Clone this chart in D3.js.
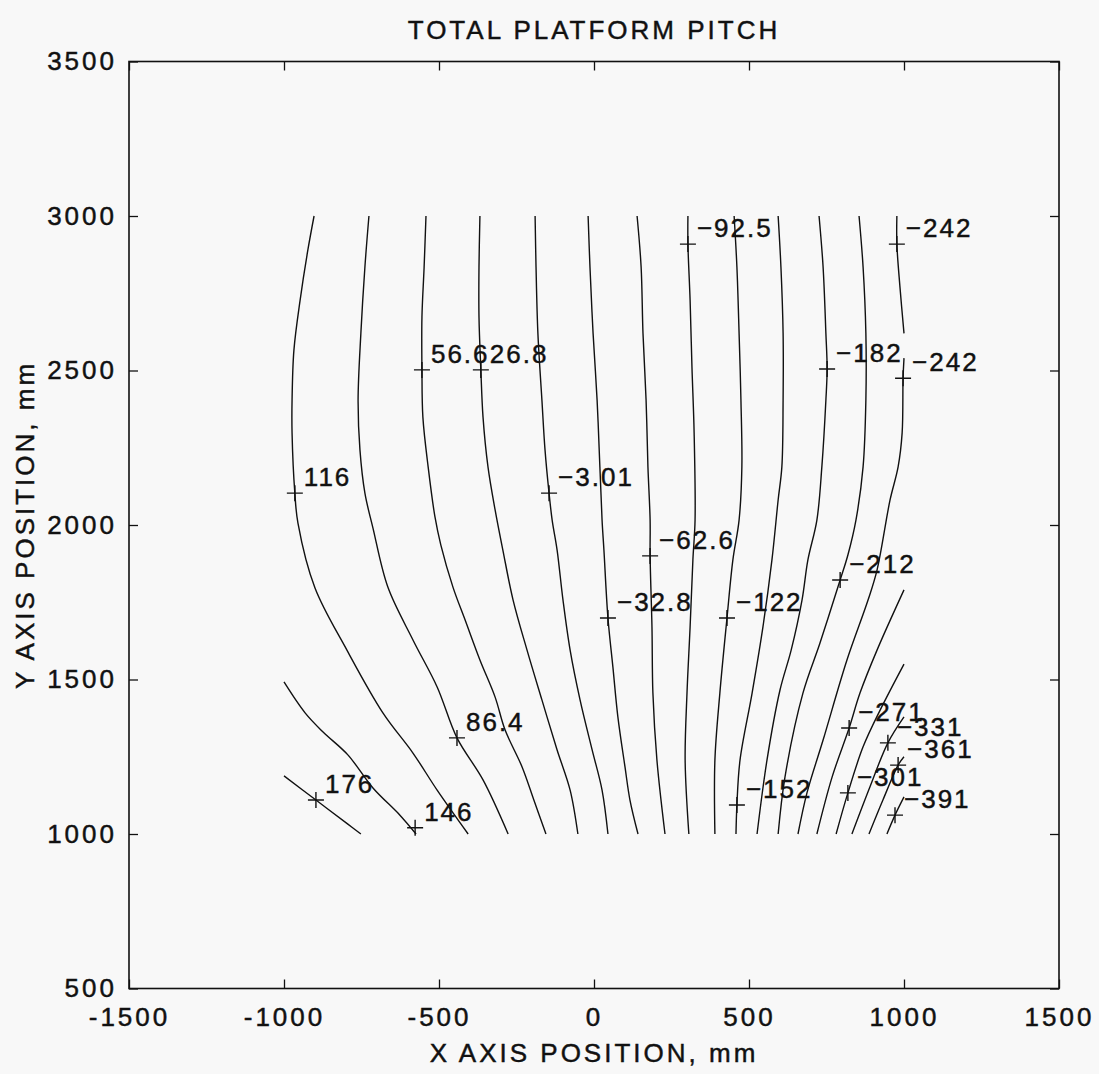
<!DOCTYPE html>
<html>
<head>
<meta charset="utf-8">
<script src="https://cdn.jsdelivr.net/npm/d3@7"></script>
<style>
  html, body { margin: 0; padding: 0; background: #f8f8f8; }
  svg { display: block; font-family: "Liberation Sans", Arial, Helvetica, sans-serif; }
  text { paint-order: stroke; }
</style>
</head>
<body>
<svg id="chart" width="1099" height="1074"></svg>
<script>
// ---- text ----
const chartTitle = "TOTAL PLATFORM PITCH";
const xTitle = "X AXIS POSITION, mm";
const yTitle = "Y AXIS POSITION, mm";

// ---- axes ----
const xDomain = [-1500, 1500];
const yDomain = [500, 3500];
const xTicks = [-1500, -1000, -500, 0, 500, 1000, 1500];
const yTicks = [500, 1000, 1500, 2000, 2500, 3000, 3500];

// ---- contour levels (pitch) ----
const levels = [176, 146, 116, 86.4, 56.6, 26.8, -3.01, -32.8, -62.6, -92.5,
                -122, -152, -182, -212, -242, -271, -301, -331, -361, -391];

// ---- contour paths, [x mm, y mm] ----
const line176 = [[-1000,1188],[-897,1110],[-794,1032],[-752,1000]];
const line146 = [[-1000,1492],[-932,1392],[-874,1330],[-794,1256],[-713,1149],[-626,1061],[-574,1000]];
const line116 = [[-903,3000],[-923,2890],[-948,2728],[-968,2566],[-974,2404],[-974,2298],[-965,2103],
                 [-955,2006],[-900,1796],[-797,1595],[-681,1392],[-584,1262],[-506,1142],[-406,1000]];
const line86 = [[-726,3000],[-739,2835],[-752,2621],[-761,2404],[-755,2243],[-739,2103],[-713,1990],
                [-665,1799],[-584,1628],[-506,1476],[-442,1311],[-358,1175],[-277,1000]];
const line57 = [[-542,3000],[-548,2835],[-555,2673],[-555,2502],[-552,2349],[-535,2188],[-513,2026],
                [-494,1935],[-455,1799],[-416,1693],[-368,1563],[-319,1443],[-287,1337],[-232,1217],
                [-194,1110],[-155,1000]];
const line27 = [[-368,3000],[-371,2835],[-371,2673],[-365,2502],[-358,2349],[-342,2188],[-319,2049],
                [-294,1919],[-261,1757],[-216,1595],[-168,1434],[-119,1272],[-77,1142],[-52,1000]];
const lineM3 = [[-190,3000],[-187,2835],[-181,2621],[-168,2404],[-158,2243],[-145,2103],[-135,2016],
                [-119,1919],[-100,1757],[-77,1595],[-45,1434],[-6,1272],[26,1142],[45,1000]];
const lineM33 = [[-19,3000],[-13,2835],[-3,2621],[10,2404],[19,2188],[26,2016],[32,1919],[45,1699],
                 [61,1540],[77,1379],[100,1217],[116,1110],[142,1000]];
const lineM63 = [[139,3000],[152,2835],[158,2621],[168,2404],[174,2188],[181,2016],[181,1900],
                 [187,1670],[190,1456],[203,1239],[229,1000]];
const lineM93 = [[303,3000],[303,2909],[310,2728],[316,2511],[323,2298],[326,2016],[319,1887],
                 [310,1670],[300,1456],[294,1239],[306,1000]];
const lineM122 = [[452,3000],[461,2835],[468,2621],[474,2404],[477,2188],[468,2016],[448,1887],
                  [429,1699],[406,1456],[390,1239],[390,1000]];
const lineM152 = [[594,3000],[603,2835],[610,2621],[610,2404],[606,2188],[594,2081],[574,1887],
                  [545,1670],[510,1456],[471,1239],[461,1094],[458,1000]];
const lineM182 = [[726,3000],[739,2835],[748,2621],[752,2505],[748,2404],[735,2188],[719,2016],
                  [690,1887],[671,1757],[636,1595],[600,1466],[558,1239],[526,1000]];
const lineM212 = [[855,3000],[868,2835],[877,2621],[877,2404],[868,2188],[845,2016],[819,1903],
                  [794,1822],[729,1618],[674,1456],[616,1184],[594,1000]];
const lineM242a = [[977,3000],[977,2909],[987,2770],[1000,2620]];
const lineM242b = [[1000,2540],[997,2475],[994,2298],[981,2188],[955,2081],[913,1854],[884,1757],
                   [816,1563],[739,1304],[687,1133],[658,1000]];
const lineM271 = [[1000,1790],[913,1595],[858,1456],[823,1343],[768,1184],[719,1000]];
const lineM301 = [[1000,1550],[923,1401],[868,1282],[819,1133],[781,1000]];
const lineM331 = [[1000,1379],[948,1295],[890,1152],[832,1000]];
const lineM361 = [[1000,1250],[981,1223],[932,1110],[887,1000]];
const lineM391 = [[1000,1120],[971,1061],[945,1000]];

const contourPaths = [line176, line146, line116, line86, line57, line27, lineM3, lineM33, lineM63,
  lineM93, lineM122, lineM152, lineM182, lineM212, lineM242a, lineM242b, lineM271, lineM301,
  lineM331, lineM361, lineM391];

// ---- label anchor points: [level, x mm, y mm] ----
const labelPoints = [
  [176, -897, 1110], [146, -577, 1020], [116, -965, 2103], [86.4, -442, 1311],
  [56.6, -555, 2502], [26.8, -365, 2502], [-3.01, -145, 2103], [-32.8, 45, 1699],
  [-62.6, 181, 1900], [-92.5, 303, 2909], [-122, 429, 1699], [-152, 461, 1094],
  [-182, 752, 2505], [-212, 794, 1822], [-242, 977, 2909], [-242, 997, 2475],
  [-271, 823, 1343], [-301, 819, 1133], [-331, 948, 1295], [-361, 981, 1223],
  [-391, 971, 1061]
];

// ---- layout ----
const svg = d3.select("#chart");
const x = d3.scaleLinear().domain(xDomain).range([129, 1059]);
const y = d3.scaleLinear().domain(yDomain).range([988.5, 61.5]);
const FONT = 26;
const INK = "#111";

// shared text look: slightly heavy glyphs with open tracking
function inkText(sel, spacing) {
  sel.attr("fill", INK)
    .attr("stroke", INK)
    .attr("stroke-width", 0.45)
    .style("font-size", FONT + "px")
    .style("letter-spacing", spacing + "px");
}

svg.append("rect").attr("width", 1099).attr("height", 1074).attr("fill", "#f8f8f8");

svg.append("defs").append("clipPath").attr("id", "plotClip")
  .append("rect")
  .attr("x", x(xDomain[0])).attr("y", y(yDomain[1]))
  .attr("width", x(xDomain[1]) - x(xDomain[0]))
  .attr("height", y(yDomain[0]) - y(yDomain[1]));

// axes with inward ticks on all four sides
function styleAxis(g) {
  g.attr("font-family", null).attr("font-size", null);
  g.select(".domain").remove();
  g.selectAll(".tick line").attr("stroke", INK).attr("stroke-width", 1.3);
  g.selectAll(".tick text").call(inkText, 3);
}
const tickText = d => String(d);   // plain hyphen for negatives

svg.append("g")
  .attr("transform", `translate(0,${y(yDomain[0])})`)
  .call(d3.axisBottom(x).tickValues(xTicks).tickSize(-9).tickPadding(19).tickFormat(tickText))
  .call(styleAxis);

svg.append("g")
  .attr("transform", `translate(0,${y(yDomain[1])})`)
  .call(d3.axisTop(x).tickValues(xTicks).tickSize(-9).tickFormat(""))
  .call(styleAxis);

svg.append("g")
  .attr("transform", `translate(${x(xDomain[0])},0)`)
  .call(d3.axisLeft(y).tickValues(yTicks).tickSize(-9).tickPadding(12).tickFormat(tickText))
  .call(styleAxis);

svg.append("g")
  .attr("transform", `translate(${x(xDomain[1])},0)`)
  .call(d3.axisRight(y).tickValues(yTicks).tickSize(-9).tickFormat(""))
  .call(styleAxis);

// frame
svg.append("rect")
  .attr("x", x(xDomain[0])).attr("y", y(yDomain[1]))
  .attr("width", x(xDomain[1]) - x(xDomain[0]))
  .attr("height", y(yDomain[0]) - y(yDomain[1]))
  .attr("fill", "none").attr("stroke", INK).attr("stroke-width", 1.6);

// contour lines
const lineGen = d3.line()
  .x(d => x(d[0])).y(d => y(d[1]))
  .curve(d3.curveCatmullRom.alpha(0.5));

const plot = svg.append("g").attr("clip-path", "url(#plotClip)");
plot.selectAll("path.contour")
  .data(contourPaths)
  .join("path")
  .attr("class", "contour")
  .attr("d", lineGen)
  .attr("fill", "none")
  .attr("stroke", INK)
  .attr("stroke-width", 1.4);

// contour labels: "+" marker on the line, value to the upper right
const fmtLevel = v => String(v).replace("-", "\u2212");
const labels = plot.selectAll("g.clabel")
  .data(labelPoints)
  .join("g")
  .attr("class", "clabel")
  .attr("transform", d => `translate(${x(d[1])},${y(d[2])})`);

labels.append("path")
  .attr("d", "M-8,0H8M0,-8V8")
  .attr("stroke", INK).attr("stroke-width", 1.4);

labels.append("text")
  .attr("x", 9).attr("y", -7)
  .call(inkText, 2)
  .text(d => fmtLevel(d[0]));

// titles
const midX = (x(xDomain[0]) + x(xDomain[1])) / 2;
const midY = (y(yDomain[0]) + y(yDomain[1])) / 2;

svg.append("text")
  .attr("x", midX).attr("y", 39)
  .attr("text-anchor", "middle")
  .call(inkText, 3)
  .text(chartTitle);

svg.append("text")
  .attr("x", midX).attr("y", 1062)
  .attr("text-anchor", "middle")
  .call(inkText, 3)
  .text(xTitle);

svg.append("text")
  .attr("transform", `translate(34,${midY}) rotate(-90)`)
  .attr("text-anchor", "middle")
  .call(inkText, 3)
  .text(yTitle);
</script>
</body>
</html>
